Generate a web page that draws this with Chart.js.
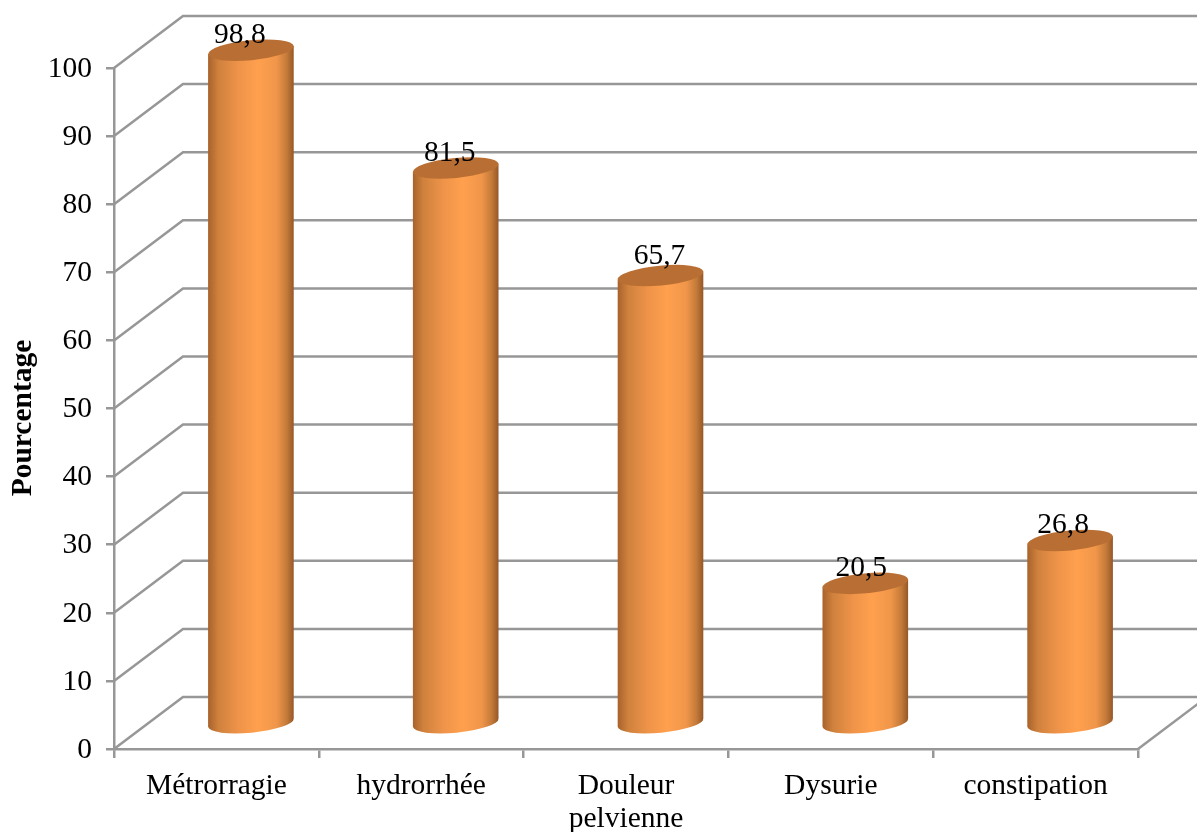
<!DOCTYPE html>
<html>
<head>
<meta charset="utf-8">
<title>Pourcentage</title>
<script src="https://cdn.jsdelivr.net/npm/chart.js@4"></script>
<style>
    html, body { margin: 0; padding: 0; background: #fff; overflow: hidden; }
    canvas { display: block; }
</style>
</head>
<body>
<canvas id="myChart" width="1197" height="832"></canvas>
<script>
// symptom frequencies
const categories = ['Métrorragie', 'hydrorrhée', ['Douleur', 'pelvienne'], 'Dysurie', 'constipation'];
const percentages = [98.8, 81.5, 65.7, 20.5, 26.8];
const yTicks = [0, 10, 20, 30, 40, 50, 60, 70, 80, 90, 100];
const yAxisTitle = 'Pourcentage';

const font = 'Liberation Serif';
const gridColor = '#979797';

// 3D look: the walls sit this far behind the front axes
const depthX = 69;
const depthY = 52;

// label shifts per bar, the labels are not quite centered on the cylinders
const labelShiftX = [-11, -6, -1, -4, -7];
const labelShiftY = [0, 0, -5, 0, 0];

function cylinderGradient(ctx, x, halfWidth) {
    const g = ctx.createLinearGradient(x - halfWidth, 0, x + halfWidth, 0);
    g.addColorStop(0, '#a8622b');
    g.addColorStop(0.12, '#cf813d');
    g.addColorStop(0.35, '#ee9349');
    g.addColorStop(0.58, '#ffa04e');
    g.addColorStop(0.8, '#f0964a');
    g.addColorStop(0.92, '#c47a39');
    g.addColorStop(1, '#955727');
    return g;
}

// back wall and side wall lines
const wallsPlugin = {
    id: 'walls',
    beforeDatasetsDraw(chart) {
        const { ctx, chartArea, scales } = chart;
        ctx.save();
        ctx.strokeStyle = gridColor;
        ctx.lineWidth = 2.5;
        yTicks.forEach(v => {
            const y = scales.y.getPixelForValue(v);
            ctx.beginPath();
            ctx.moveTo(chartArea.left, y);
            ctx.lineTo(chartArea.left + depthX, y - depthY);
            ctx.lineTo(chartArea.right + depthX, y - depthY);
            ctx.stroke();
        });
        ctx.beginPath();
        ctx.moveTo(chartArea.right, chartArea.bottom);
        ctx.lineTo(chartArea.right + depthX, chartArea.bottom - depthY);
        ctx.stroke();
        ctx.restore();
    }
};

// draws each bar element as a cylinder halfway into the depth
const cylinderPlugin = {
    id: 'cylinders',
    beforeDatasetDraw(chart, args) {
        const { ctx } = chart;
        const tilt = -5.5 * Math.PI / 180;
        args.meta.data.forEach(bar => {
            const props = bar.getProps(['x', 'y', 'base', 'width'], true);
            const cx = props.x + depthX / 2;
            const top = props.y - depthY / 2;
            const bottom = props.base - depthY / 2 + 1;
            const rx = props.width / 2;
            const ry = 10;
            const dx = rx * Math.cos(tilt);
            const dy = rx * Math.sin(tilt);

            ctx.save();
            ctx.beginPath();
            ctx.moveTo(cx + dx, top + dy);
            ctx.lineTo(cx + dx, bottom + dy);
            ctx.ellipse(cx, bottom, rx, ry, tilt, 0, Math.PI);
            ctx.lineTo(cx - dx, top - dy);
            ctx.closePath();
            ctx.fillStyle = cylinderGradient(ctx, cx, dx);
            ctx.fill();

            ctx.beginPath();
            ctx.ellipse(cx, top, rx, ry, tilt, 0, Math.PI * 2);
            ctx.fillStyle = '#b96f34';
            ctx.fill();
            ctx.restore();
        });
        return false;
    },
    afterDatasetsDraw(chart) {
        const { ctx } = chart;
        const bars = chart.getDatasetMeta(0).data;
        ctx.save();
        ctx.fillStyle = '#000';
        ctx.font = '29.5px "' + font + '"';
        ctx.textAlign = 'center';
        ctx.textBaseline = 'alphabetic';
        bars.forEach((bar, i) => {
            const text = String(percentages[i]).replace('.', ',');
            ctx.fillText(text, bar.x + depthX / 2 + labelShiftX[i], bar.y - depthY / 2 - 7 + labelShiftY[i]);
        });

        // y axis title sits a bit under the axis middle
        ctx.translate(31, 418);
        ctx.rotate(-Math.PI / 2);
        ctx.font = 'bold 29.5px "' + font + '"';
        ctx.fillText(yAxisTitle, 0, 0);
        ctx.restore();
    }
};

new Chart(document.getElementById('myChart'), {
    type: 'bar',
    data: {
        labels: categories,
        datasets: [{
            data: percentages,
            backgroundColor: '#f79646',
            categoryPercentage: 1,
            barPercentage: 0.42
        }]
    },
    options: {
        responsive: false,
        animation: false,
        layout: { padding: { top: 68, right: 59, left: 0, bottom: 0 } },
        plugins: {
            legend: { display: false },
            tooltip: { enabled: false }
        },
        scales: {
            x: {
                afterFit: scale => { scale.height = 83; },
                border: { color: gridColor, width: 2.5 },
                grid: { drawOnChartArea: false, color: gridColor, lineWidth: 2.5, tickLength: 9 },
                ticks: {
                    color: '#000',
                    padding: 12,
                    maxRotation: 0,
                    autoSkip: false,
                    font: { family: font, size: 29.5, lineHeight: 1.12 }
                }
            },
            y: {
                min: 0,
                max: 100,
                afterFit: scale => { scale.width = 114; },
                border: { color: gridColor, width: 2.5 },
                grid: { drawOnChartArea: false, color: gridColor, lineWidth: 2.5, tickLength: 8 },
                afterBuildTicks: scale => { scale.ticks = yTicks.map(value => ({ value })); },
                ticks: {
                    color: '#000',
                    padding: 14,
                    labelOffset: 1,
                    font: { family: font, size: 29.5 }
                }
            }
        }
    },
    plugins: [wallsPlugin, cylinderPlugin]
});
</script>
</body>
</html>
